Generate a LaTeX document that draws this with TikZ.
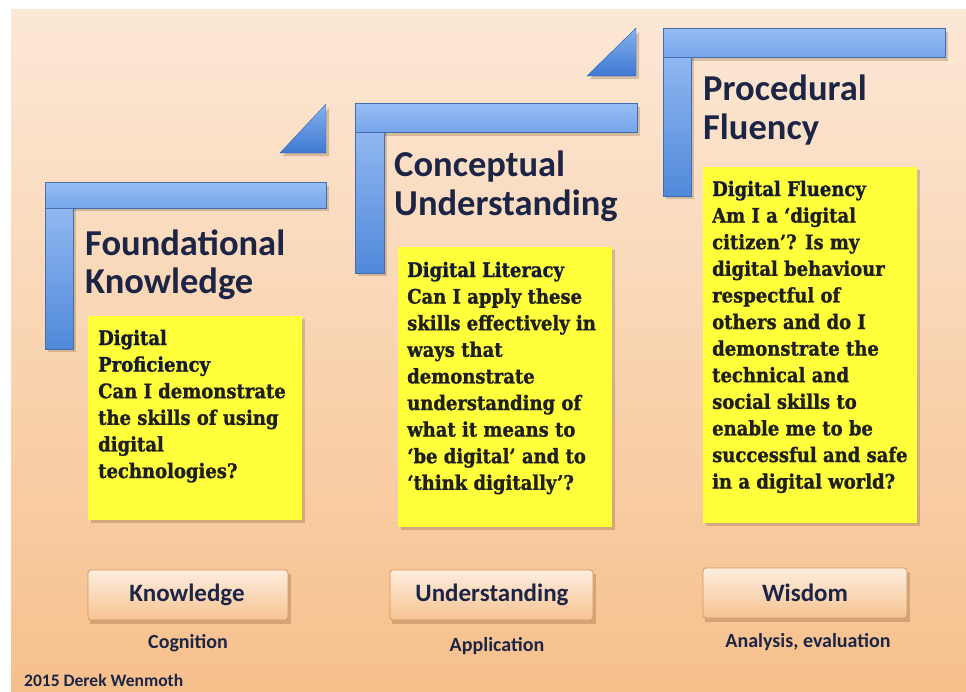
\documentclass[tikz,border=0pt]{standalone}
\usepackage{fontspec}
\setmainfont{Carlito}
\newfontfamily\slab[FakeStretch=0.9,FakeBold=1.2]{DejaVu Serif}
\definecolor{bgtop}{HTML}{FCE8D6}
\definecolor{bgbot}{HTML}{F6C08C}
\definecolor{navy}{HTML}{1C2546}
\definecolor{blueA}{HTML}{9DC0F5}
\definecolor{blueB}{HTML}{5089DA}
\definecolor{blueH1}{HTML}{98BDF4}
\definecolor{blueH2}{HTML}{76A5EB}
\definecolor{triA}{HTML}{86B0EE}
\definecolor{triB}{HTML}{3E79D2}
\definecolor{sticky}{HTML}{FFFF3C}
\definecolor{btnA}{HTML}{FDEEDF}
\definecolor{btnB}{HTML}{F7C391}
\definecolor{btnE}{HTML}{D9955C}
\begin{document}
\begin{tikzpicture}[x=1pt,y=-1pt,
  vbar/.style={top color=blueA,bottom color=blueB,draw=blueB!80!black,line width=0.4pt},
  hbar/.style={top color=blueH1,bottom color=blueH2,draw=blueB!80!black,line width=0.4pt},
  tri/.style={top color=triA,bottom color=triB,draw=triB!80!black,line width=0.4pt},
  shad/.style={fill=black!45!brown,opacity=0.25},
  note/.style={fill=sticky,draw=none},
  head/.style={font=\fontsize{36.5}{40}\selectfont\bfseries,text=navy,inner sep=0pt},
  slabhead/.style={font=\slab\fontsize{20}{26}\selectfont\bfseries,text=navy!70!black,inner sep=0pt},
  slabbody/.style={font=\slab\fontsize{20}{26}\selectfont\bfseries,text=black!88,inner sep=0pt},
  btn/.style={rounded corners=3pt,top color=btnA,bottom color=btnB,draw=btnE,line width=0.8pt},
  btntext/.style={font=\fontsize{25}{28}\selectfont\bfseries,text=navy,inner sep=0pt},
  sub/.style={font=\fontsize{20}{22}\selectfont\bfseries,text=navy,inner sep=0pt}]
\useasboundingbox (0,0) rectangle (966,691);
\fill[white] (0,0) rectangle (966,691);
\shade[top color=bgtop,bottom color=bgbot] (11,9) rectangle (966,691);

% ---------- brackets ----------
% shadows
\fill[shad] (48,186) rectangle (76,352);
\fill[shad] (48,186) rectangle (329,211);
\fill[shad] (358,107) rectangle (387,276);
\fill[shad] (358,107) rectangle (640,136);
\fill[shad] (666,32) rectangle (694,199);
\fill[shad] (666,32) rectangle (948,61);
\fill[shad] (283,156) -- (329,108) -- (329,156) -- cycle;
\fill[shad] (590,79) -- (639,32) -- (639,79) -- cycle;
% bracket 1
\path[vbar] (45,182) rectangle (73,349);
\path[hbar] (45,182) rectangle (326,208);
\path[tri] (280,153) -- (326,104) -- (326,153) -- cycle;
% bracket 2
\path[vbar] (355,103) rectangle (384,273);
\path[hbar] (355,103) rectangle (637,132);
\path[tri] (587,76) -- (636,28) -- (636,76) -- cycle;
% bracket 3
\path[vbar] (663,28) rectangle (691,196);
\path[hbar] (663,28) rectangle (945,57);

% ---------- headings ----------
\node[head,anchor=base west] (h1a) at (85,255) {Foundational};
\node[head,anchor=base west] (h1b) at (85,293) {Knowledge};
\node[head,anchor=base west] (h2a) at (394,176) {Conceptual};
\node[head,anchor=base west] (h2b) at (394,215) {Understanding};
\node[head,anchor=base west] (h3a) at (703,100) {Procedural};
\node[head,anchor=base west] (h3b) at (703,139) {Fluency};

% ---------- sticky notes ----------
\fill[shad] (91,319) rectangle (305,523);
\fill[shad] (401,250) rectangle (615,530);
\fill[shad] (706,170) rectangle (920,526);
\path[note] (88,316) rectangle (302,520) node[midway,opacity=0] (n1) {};
\path[note] (398,247) rectangle (612,527) node[midway,opacity=0] (n2) {};
\path[note] (703,167) rectangle (917,523) node[midway,opacity=0] (n3) {};

\node[slabhead,anchor=base west] (p1) at (98,345) {Digital};
\node[slabhead,anchor=base west] (p2) at (98,371.6) {Proficiency};
\foreach \i/\t in {2/Can I demonstrate,3/the skills of using,4/digital,5/technologies?}
  \node[slabbody,anchor=base west] (p\i b) at (98,{345+\i*26.6}) {\t};

\node[slabhead,anchor=base west] (l1) at (407,277) {Digital Literacy};
\foreach \i/\t in {1/Can I apply these,2/skills effectively in,3/ways that,4/demonstrate,5/understanding of,6/what it means to,7/{‘be digital’ and to},8/{‘think digitally’?}}
  \node[slabbody,anchor=base west] (l\i b) at (407,{277+\i*26.6}) {\t};

\node[slabhead,anchor=base west] (f1) at (712,196) {Digital Fluency};
\foreach \i/\t in {1/{Am I a ‘digital},2/{citizen’? Is my},3/digital behaviour,4/respectful of,5/others and do I,6/demonstrate the,7/technical and,8/social skills to,9/enable me to be,10/successful and safe,11/in a digital world?}
  \node[slabbody,anchor=base west] (f\i b) at (712,{196+\i*26.6}) {\t};

% ---------- buttons ----------
\fill[shad] (90,574) rectangle (291,624);
\fill[shad] (392,574) rectangle (596,624);
\fill[shad] (705,572) rectangle (910,622);
\path[btn] (88,570) rectangle (288,620);
\path[btn] (390,570) rectangle (593,620);
\path[btn] (703,568) rectangle (907,618);
\node[btntext] (k) at (187,595) {Knowledge};
\node[btntext] (u) at (492,595) {Understanding};
\node[btntext] (w) at (805,593) {Wisdom};
\node[sub] (c) at (188,643) {Cognition};
\node[sub] (a) at (497,646) {Application};
\node[sub] (e) at (808,642) {Analysis, evaluation};
\node[font=\fontsize{17.5}{19}\selectfont\bfseries,text=navy,inner sep=0pt,anchor=base west] (cr) at (24,686) {2015 Derek Wenmoth};
\end{tikzpicture}
\end{document}
